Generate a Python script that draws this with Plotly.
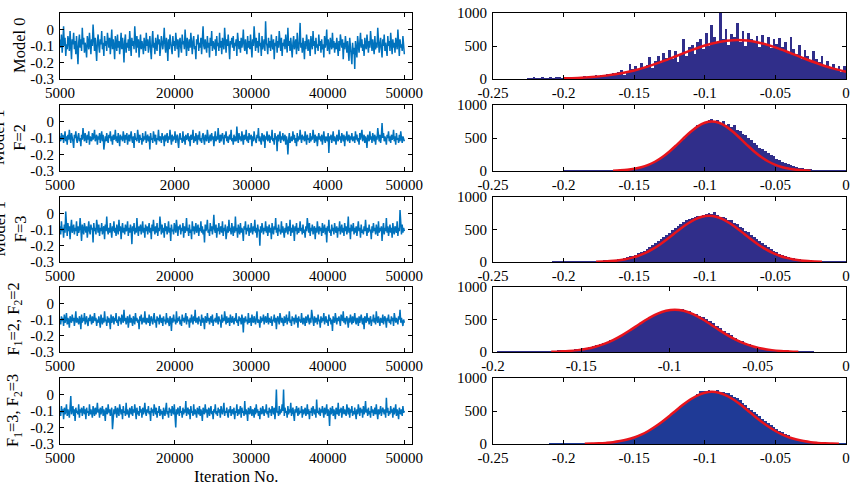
import plotly.graph_objects as go

# ---------------- data ----------------
ROW_LABELS = ["Model 0", "Model 1<br>F=2", "Model 1<br>F=3",
              "Model 2<br>F<sub>1</sub>=2, F<sub>2</sub>=2",
              "Model 2<br>F<sub>1</sub>=3, F<sub>2</sub>=3"]

ITER_START = 5000
ITER_END = 50000
ITER_TICKS = [5000, 20000, 30000, 40000, 50000]
ITER_TICKTEXT = [
    ["5000", "20000", "30000", "40000", "50000"],
    ["5000", "2000", "30000", "4000", "50000"],
    ["5000", "20000", "30000", "40000", "50000"],
    ["5000", "20000", "30000", "40000", "50000"],
    ["5000", "20000", "30000", "40000", "50000"],
]
TRACE_YTICKS = [-0.3, -0.2, -0.1, 0]
TRACE_YTEXT = ["-0.3", "-0.2", "-0.1", "0"]

HIST_XTICKS = [
    [-0.25, -0.2, -0.15, -0.1, -0.05, 0],
    [-0.25, -0.2, -0.15, -0.1, -0.05, 0],
    [-0.25, -0.2, -0.15, -0.1, -0.05, 0],
    [-0.2, -0.15, -0.1, -0.05, 0],
    [-0.25, -0.2, -0.15, -0.1, -0.05, 0],
]
HIST_XTEXT = [
    ["-0.25", "-0.2", "-0.15", "-0.1", "-0.05", "0"],
    ["-0.25", "-0.2", "-0.15", "-0.1", "-0.05", "0"],
    ["-0.25", "-0.2", "-0.15", "-0.1", "-0.05", "0"],
    ["-0.2", "-0.15", "-0.1", "-0.05", "0"],
    ["-0.25", "-0.2", "-0.15", "-0.1", "-0.05", "0"],
]
HIST_YTICKS = [0, 500, 1000]

# MCMC traces (sampled along the iterations)
trace0 = [
 -0.06,-0.11,-0.03,-0.14,-0.08,0.02,-0.10,-0.05,-0.16,-0.09,-0.12,-0.04,-0.07,-0.13,-0.01,-0.10,-0.18,-0.06,-0.09,-0.02,-0.12,-0.07,-0.15,-0.04,
 -0.10,-0.21,-0.08,-0.03,-0.11,-0.06,-0.13,0.01,-0.09,-0.05,-0.14,-0.08,-0.11,-0.17,-0.04,-0.07,-0.12,-0.02,-0.09,-0.15,-0.06,-0.10,0.03,-0.08,
 -0.13,-0.05,-0.11,-0.19,-0.07,-0.03,-0.10,-0.14,-0.06,-0.09,-0.01,-0.12,-0.08,-0.16,-0.04,-0.10,-0.07,-0.13,-0.02,-0.09,-0.11,-0.05,-0.15,-0.08,
 0.00,-0.12,-0.06,-0.10,-0.18,-0.04,-0.08,-0.13,-0.03,-0.11,-0.07,-0.15,-0.09,-0.02,-0.12,-0.05,-0.10,-0.20,-0.07,-0.03,-0.14,-0.08,-0.11,-0.06,
 -0.13,-0.01,-0.09,-0.16,-0.05,-0.10,-0.07,-0.12,0.02,-0.08,-0.14,-0.04,-0.11,-0.06,-0.17,-0.09,-0.03,-0.12,-0.07,-0.10,-0.15,-0.05,-0.08,-0.13,
 -0.02,-0.10,-0.06,-0.14,-0.09,-0.04,-0.12,-0.18,-0.07,-0.01,-0.11,-0.08,-0.15,-0.05,-0.10,-0.13,-0.03,-0.09,-0.06,-0.16,-0.11,-0.04,-0.08,-0.12,
 -0.07,0.01,-0.10,-0.14,-0.05,-0.09,-0.19,-0.06,-0.12,-0.03,-0.08,-0.11,-0.15,-0.04,-0.10,-0.07,-0.13,-0.02,-0.09,-0.12,-0.06,-0.17,-0.08,-0.05,
 -0.11,-0.14,-0.03,-0.09,-0.07,-0.12,0.00,-0.10,-0.16,-0.05,-0.08,-0.13,-0.06,-0.11,-0.02,-0.09,-0.15,-0.07,-0.04,-0.12,-0.10,-0.18,-0.06,-0.09,
 -0.03,-0.13,-0.08,-0.11,-0.05,-0.15,-0.07,0.02,-0.10,-0.12,-0.06,-0.09,-0.14,-0.04,-0.11,-0.08,-0.17,-0.05,-0.10,-0.01,-0.13,-0.07,-0.09,-0.12,
 -0.06,-0.16,-0.04,-0.10,-0.08,-0.13,-0.02,-0.11,-0.07,-0.15,-0.05,-0.09,-0.12,0.01,-0.08,-0.14,-0.06,-0.10,-0.03,-0.12,-0.18,-0.07,-0.09,-0.05,
 -0.11,-0.04,-0.13,-0.08,-0.10,-0.06,-0.16,-0.02,-0.09,-0.12,-0.07,-0.14,-0.05,-0.11,-0.08,0.00,-0.10,-0.13,-0.06,-0.09,-0.15,-0.04,-0.11,-0.07,
 -0.12,-0.03,-0.09,-0.17,-0.06,-0.10,0.02,-0.08,-0.13,-0.05,-0.11,-0.07,-0.14,-0.02,-0.10,-0.08,-0.16,-0.04,-0.12,-0.09,-0.06,-0.13,0.05,-0.08,
 -0.10,-0.15,-0.05,-0.11,-0.07,-0.13,-0.03,-0.09,-0.12,-0.06,-0.18,-0.08,-0.10,-0.04,-0.14,-0.07,-0.11,-0.01,-0.09,-0.13,-0.05,-0.16,-0.08,-0.10,
 -0.06,-0.12,-0.03,-0.09,-0.14,0.01,-0.10,-0.07,-0.13,-0.05,-0.11,-0.17,-0.08,-0.04,-0.12,-0.09,-0.06,-0.15,-0.02,-0.10,-0.13,-0.07,0.04,-0.11,
 -0.08,-0.14,-0.05,-0.10,-0.18,-0.07,-0.12,-0.03,-0.09,-0.13,-0.06,-0.11,-0.16,-0.04,-0.08,-0.12,-0.01,-0.10,-0.07,-0.15,-0.05,-0.11,-0.09,-0.13,
 -0.03,-0.10,-0.07,-0.14,-0.06,-0.12,-0.09,-0.17,-0.04,-0.11,-0.08,0.00,-0.13,-0.06,-0.10,-0.15,-0.05,-0.09,-0.12,-0.02,-0.11,-0.07,-0.14,-0.08,
 -0.12,-0.05,-0.10,-0.16,-0.07,-0.13,-0.03,-0.09,-0.11,-0.06,-0.18,-0.08,-0.12,-0.04,-0.10,-0.14,-0.07,-0.11,-0.19,-0.05,-0.09,-0.13,-0.21,-0.08,
 -0.15,-0.11,-0.24,-0.07,-0.12,-0.17,-0.04,-0.10,-0.14,-0.08,-0.02,-0.11,-0.06,-0.13,-0.09,-0.16,-0.05,-0.10,-0.12,-0.03,-0.08,-0.14,-0.07,-0.11,
 -0.01,-0.09,-0.13,-0.06,-0.10,-0.15,-0.04,-0.12,-0.08,-0.11,0.01,-0.07,-0.14,-0.09,-0.05,-0.12,-0.17,-0.06,-0.10,-0.03,-0.13,-0.08,-0.11,-0.16,
 -0.04,-0.10,-0.07,-0.13,-0.02,-0.09,-0.15,-0.06,-0.11,-0.08,-0.14,-0.05,-0.10,-0.12,0.00,-0.08,-0.16,-0.06,-0.11,-0.09,-0.13,-0.04,-0.12,-0.15,
]
trace1 = [
 -0.09,-0.12,-0.07,-0.11,-0.08,-0.13,-0.10,-0.06,-0.12,-0.09,-0.14,-0.08,-0.11,-0.05,-0.10,-0.13,-0.07,-0.09,-0.12,-0.16,-0.08,-0.10,-0.06,-0.11,
 -0.13,-0.09,-0.07,-0.12,-0.10,-0.15,-0.08,-0.11,-0.04,-0.09,-0.12,-0.07,-0.10,-0.13,-0.08,-0.11,-0.06,-0.14,-0.09,-0.10,-0.12,-0.07,-0.11,-0.09,
 -0.05,-0.12,-0.10,-0.08,-0.14,-0.09,-0.11,-0.07,-0.13,-0.10,-0.06,-0.12,-0.08,-0.17,-0.10,-0.09,-0.12,-0.07,-0.11,-0.13,-0.08,-0.10,-0.06,-0.12,
 -0.09,-0.14,-0.08,-0.11,-0.10,-0.05,-0.12,-0.09,-0.13,-0.07,-0.10,-0.15,-0.08,-0.11,-0.09,-0.12,-0.06,-0.10,-0.13,-0.08,-0.11,-0.07,-0.14,-0.10,
 -0.08,-0.12,-0.10,-0.06,-0.11,-0.13,-0.09,-0.16,-0.07,-0.11,-0.10,-0.12,-0.05,-0.09,-0.13,-0.08,-0.11,-0.10,-0.14,-0.07,-0.12,-0.09,-0.11,-0.06,
 -0.13,-0.10,-0.08,-0.12,-0.09,-0.17,-0.07,-0.11,-0.10,-0.13,-0.06,-0.09,-0.12,-0.08,-0.14,-0.10,-0.11,-0.05,-0.12,-0.09,-0.10,-0.13,-0.07,-0.11,
 -0.09,-0.15,-0.08,-0.12,-0.10,-0.07,-0.13,-0.09,-0.11,-0.05,-0.10,-0.14,-0.08,-0.12,-0.09,-0.11,-0.06,-0.13,-0.10,-0.08,-0.12,-0.16,-0.09,-0.07,
 -0.11,-0.10,-0.13,-0.06,-0.12,-0.09,-0.14,-0.08,-0.11,-0.10,-0.07,-0.12,-0.09,-0.15,-0.08,-0.11,-0.10,-0.05,-0.13,-0.09,-0.12,-0.07,-0.10,-0.14,
 -0.08,-0.11,-0.06,-0.12,-0.10,-0.13,-0.09,-0.07,-0.11,-0.14,-0.08,-0.10,-0.12,-0.05,-0.09,-0.13,-0.10,-0.08,-0.12,-0.07,-0.11,-0.09,-0.15,-0.10,
 -0.06,-0.12,-0.09,-0.11,-0.04,-0.10,-0.13,-0.08,-0.12,-0.09,-0.07,-0.11,-0.14,-0.08,-0.10,-0.06,-0.12,-0.09,-0.13,-0.10,-0.08,-0.11,-0.05,-0.12,
 -0.10,-0.14,-0.08,-0.12,-0.09,-0.12,-0.03,-0.10,-0.13,-0.07,-0.11,-0.09,-0.12,-0.06,-0.10,-0.14,-0.08,-0.11,-0.10,-0.05,-0.12,-0.09,-0.13,-0.07,
 -0.11,-0.10,-0.08,-0.15,-0.09,-0.12,-0.06,-0.10,-0.11,-0.13,-0.08,-0.10,-0.04,-0.12,-0.09,-0.11,-0.14,-0.07,-0.10,-0.12,-0.08,-0.16,-0.09,-0.11,
 -0.06,-0.12,-0.10,-0.08,-0.13,-0.09,-0.11,-0.05,-0.12,-0.10,-0.14,-0.07,-0.11,-0.09,-0.18,-0.08,-0.12,-0.10,-0.06,-0.13,-0.09,-0.11,-0.07,-0.12,
 -0.10,-0.08,-0.14,-0.09,-0.12,-0.20,-0.11,-0.07,-0.13,-0.10,-0.09,-0.12,-0.06,-0.11,-0.08,-0.13,-0.10,-0.15,-0.07,-0.12,-0.09,-0.11,-0.05,-0.10,
 -0.13,-0.08,-0.11,-0.09,-0.12,-0.06,-0.10,-0.14,-0.08,-0.11,-0.10,-0.13,-0.07,-0.12,-0.09,-0.11,-0.05,-0.10,-0.13,-0.08,-0.12,-0.09,-0.15,-0.10,
 -0.07,-0.11,-0.09,-0.12,-0.08,-0.14,-0.10,-0.06,-0.11,-0.13,-0.09,-0.10,-0.12,-0.07,-0.19,-0.09,-0.11,-0.08,-0.13,-0.10,-0.06,-0.12,-0.09,-0.11,
 -0.14,-0.08,-0.10,-0.12,-0.05,-0.11,-0.09,-0.13,-0.07,-0.10,-0.12,-0.08,-0.15,-0.09,-0.11,-0.06,-0.12,-0.10,-0.08,-0.13,-0.09,-0.11,-0.07,-0.12,
 -0.10,-0.09,-0.13,-0.06,-0.11,-0.08,-0.12,-0.10,-0.14,-0.07,-0.11,-0.09,-0.05,-0.12,-0.10,-0.08,-0.13,-0.09,-0.11,-0.16,-0.08,-0.10,-0.12,-0.06,
 -0.11,-0.09,-0.13,-0.07,-0.10,-0.12,-0.08,-0.14,-0.09,-0.11,-0.04,-0.10,-0.12,-0.08,-0.13,-0.09,-0.01,-0.10,-0.07,-0.12,-0.09,-0.11,-0.14,-0.08,
 -0.10,-0.06,-0.12,-0.09,-0.13,-0.08,-0.11,-0.10,-0.05,-0.12,-0.09,-0.14,-0.07,-0.11,-0.10,-0.13,-0.08,-0.12,-0.06,-0.10,-0.13,-0.09,-0.11,-0.12,
]
trace2 = [
 -0.08,-0.13,-0.05,-0.11,-0.09,-0.15,-0.07,-0.12,0.01,-0.10,-0.14,-0.06,-0.11,-0.08,-0.16,-0.09,-0.04,-0.12,-0.10,-0.07,-0.13,-0.09,-0.11,-0.05,
 -0.14,-0.08,-0.12,-0.10,-0.03,-0.11,-0.17,-0.07,-0.10,-0.13,-0.06,-0.09,-0.12,-0.08,-0.15,-0.10,-0.05,-0.11,-0.13,-0.07,-0.10,-0.09,-0.18,-0.06,
 -0.11,-0.09,-0.13,-0.04,-0.10,-0.12,-0.07,-0.14,-0.09,-0.11,-0.06,-0.13,-0.10,-0.08,-0.16,-0.07,-0.11,-0.02,-0.10,-0.13,-0.09,-0.12,-0.06,-0.10,
 -0.15,-0.08,-0.11,-0.05,-0.12,-0.09,-0.14,-0.07,-0.10,-0.13,-0.04,-0.11,-0.08,-0.16,-0.10,-0.06,-0.12,-0.09,-0.13,-0.07,-0.11,-0.10,-0.05,-0.14,
 -0.09,-0.12,-0.07,-0.10,-0.19,-0.08,-0.11,-0.06,-0.13,-0.09,-0.12,-0.03,-0.10,-0.14,-0.08,-0.11,-0.07,-0.13,-0.10,-0.05,-0.12,-0.09,-0.15,-0.07,
 -0.11,-0.08,-0.13,-0.10,-0.06,-0.12,-0.09,-0.16,-0.07,-0.11,-0.04,-0.10,-0.13,-0.08,-0.12,-0.06,-0.14,-0.09,-0.11,-0.02,-0.10,-0.13,-0.07,-0.12,
 -0.09,-0.15,-0.06,-0.11,-0.08,-0.13,-0.10,-0.05,-0.12,-0.09,-0.17,-0.07,-0.11,-0.10,-0.13,-0.06,-0.09,-0.12,-0.04,-0.11,-0.14,-0.08,-0.10,-0.07,
 -0.13,-0.09,-0.11,-0.06,-0.15,-0.08,-0.12,-0.10,-0.03,-0.11,-0.09,-0.14,-0.07,-0.12,-0.10,-0.16,-0.05,-0.11,-0.08,-0.13,-0.09,-0.06,-0.12,-0.10,
 -0.07,-0.14,-0.09,-0.11,-0.05,-0.12,-0.08,-0.13,-0.10,-0.18,-0.07,-0.11,-0.09,-0.04,-0.12,-0.10,-0.14,-0.06,-0.11,-0.08,-0.13,-0.09,-0.01,-0.10,
 -0.12,-0.07,-0.15,-0.09,-0.11,-0.06,-0.13,-0.10,-0.08,-0.12,-0.05,-0.14,-0.09,-0.11,-0.07,-0.16,-0.10,-0.08,-0.12,-0.04,-0.11,-0.09,-0.13,-0.06,
 -0.10,-0.14,-0.08,-0.12,-0.02,-0.11,-0.09,-0.15,-0.07,-0.10,-0.13,-0.06,-0.12,-0.09,-0.11,-0.17,-0.08,-0.10,-0.05,-0.13,-0.09,-0.11,-0.07,-0.14,
 -0.09,-0.12,-0.06,-0.10,-0.13,-0.08,-0.11,-0.04,-0.12,-0.09,-0.15,-0.07,-0.11,-0.10,-0.20,-0.08,-0.12,-0.06,-0.10,-0.13,-0.09,-0.11,-0.05,-0.12,
 -0.08,-0.14,-0.10,-0.07,-0.12,-0.09,-0.16,-0.06,-0.11,-0.13,-0.08,-0.10,-0.03,-0.12,-0.09,-0.14,-0.07,-0.11,-0.10,-0.13,-0.05,-0.12,-0.08,-0.11,
 -0.15,-0.09,-0.12,-0.06,-0.10,-0.13,-0.08,-0.11,-0.04,-0.14,-0.09,-0.12,-0.07,-0.10,-0.17,-0.08,-0.11,-0.06,-0.13,-0.09,-0.12,-0.10,-0.05,-0.11,
 -0.09,-0.13,-0.07,-0.12,-0.10,-0.15,-0.08,-0.11,-0.03,-0.10,-0.12,-0.06,-0.14,-0.09,-0.11,-0.07,-0.13,-0.10,-0.08,-0.16,-0.09,-0.12,-0.05,-0.10,
 -0.13,-0.08,-0.11,-0.09,-0.14,-0.06,-0.12,-0.10,-0.07,-0.13,-0.09,-0.18,-0.08,-0.11,-0.04,-0.12,-0.10,-0.14,-0.07,-0.11,-0.09,-0.13,-0.06,-0.10,
 -0.12,-0.08,-0.15,-0.09,-0.11,-0.05,-0.13,-0.10,-0.07,-0.12,-0.09,-0.14,-0.06,-0.11,-0.08,-0.13,-0.10,-0.02,-0.12,-0.09,-0.16,-0.07,-0.11,-0.10,
 -0.06,-0.13,-0.09,-0.12,-0.08,-0.14,-0.10,-0.05,-0.11,-0.09,-0.15,-0.07,-0.12,-0.10,-0.13,-0.08,-0.11,-0.04,-0.10,-0.14,-0.09,-0.12,-0.07,-0.11,
 -0.10,-0.16,-0.08,-0.12,-0.06,-0.11,-0.09,-0.13,-0.07,-0.10,-0.14,-0.05,-0.12,-0.09,-0.11,-0.08,-0.17,-0.10,-0.06,-0.13,-0.09,-0.11,-0.03,-0.12,
 -0.08,-0.14,-0.10,-0.07,-0.12,-0.09,-0.15,-0.06,-0.11,-0.13,-0.08,-0.10,-0.12,-0.05,-0.14,-0.09,-0.11,0.02,-0.10,-0.13,-0.07,-0.12,-0.09,-0.11,
]
trace3 = [
 -0.10,-0.13,-0.08,-0.11,-0.09,-0.14,-0.07,-0.12,-0.10,-0.06,-0.13,-0.09,-0.11,-0.15,-0.08,-0.10,-0.12,-0.07,-0.11,-0.09,-0.14,-0.10,-0.05,-0.12,
 -0.09,-0.11,-0.13,-0.08,-0.10,-0.16,-0.07,-0.12,-0.09,-0.11,-0.06,-0.13,-0.10,-0.08,-0.12,-0.14,-0.09,-0.11,-0.07,-0.10,-0.13,-0.08,-0.12,-0.10,
 -0.06,-0.11,-0.09,-0.14,-0.10,-0.12,-0.08,-0.11,-0.15,-0.07,-0.10,-0.13,-0.09,-0.12,-0.05,-0.11,-0.10,-0.14,-0.08,-0.12,-0.09,-0.11,-0.16,-0.07,
 -0.12,-0.10,-0.08,-0.13,-0.09,-0.11,-0.06,-0.12,-0.10,-0.14,-0.08,-0.11,-0.09,-0.13,-0.07,-0.10,-0.12,-0.04,-0.11,-0.09,-0.13,-0.10,-0.08,-0.15,
 -0.10,-0.07,-0.12,-0.09,-0.11,-0.14,-0.08,-0.10,-0.13,-0.06,-0.11,-0.09,-0.12,-0.10,-0.16,-0.08,-0.11,-0.07,-0.13,-0.10,-0.09,-0.12,-0.05,-0.11,
 -0.13,-0.09,-0.10,-0.12,-0.07,-0.14,-0.10,-0.08,-0.11,-0.13,-0.09,-0.06,-0.12,-0.10,-0.15,-0.08,-0.11,-0.09,-0.13,-0.07,-0.10,-0.12,-0.09,-0.14,
 -0.08,-0.11,-0.10,-0.13,-0.06,-0.12,-0.09,-0.11,-0.14,-0.08,-0.10,-0.17,-0.09,-0.12,-0.07,-0.11,-0.10,-0.13,-0.05,-0.12,-0.09,-0.11,-0.08,-0.13,
 -0.10,-0.14,-0.07,-0.11,-0.09,-0.12,-0.10,-0.06,-0.13,-0.08,-0.11,-0.10,-0.15,-0.09,-0.12,-0.07,-0.10,-0.13,-0.08,-0.11,-0.04,-0.12,-0.10,-0.09,
 -0.13,-0.08,-0.11,-0.10,-0.14,-0.07,-0.12,-0.09,-0.11,-0.16,-0.08,-0.10,-0.12,-0.06,-0.11,-0.09,-0.13,-0.10,-0.08,-0.12,-0.07,-0.14,-0.10,-0.11,
 -0.09,-0.12,-0.06,-0.10,-0.13,-0.08,-0.11,-0.10,-0.15,-0.07,-0.12,-0.09,-0.11,-0.05,-0.10,-0.13,-0.08,-0.12,-0.10,-0.09,-0.14,-0.07,-0.11,-0.12,
 -0.08,-0.10,-0.13,-0.09,-0.11,-0.06,-0.12,-0.10,-0.14,-0.08,-0.11,-0.09,-0.13,-0.07,-0.10,-0.18,-0.09,-0.12,-0.08,-0.11,-0.10,-0.13,-0.06,-0.12,
 -0.10,-0.09,-0.14,-0.07,-0.11,-0.12,-0.08,-0.10,-0.13,-0.09,-0.05,-0.12,-0.10,-0.11,-0.15,-0.08,-0.12,-0.09,-0.11,-0.07,-0.13,-0.10,-0.08,-0.12,
 -0.11,-0.06,-0.13,-0.09,-0.10,-0.12,-0.08,-0.14,-0.10,-0.11,-0.07,-0.12,-0.09,-0.16,-0.10,-0.08,-0.11,-0.13,-0.06,-0.10,-0.12,-0.09,-0.11,-0.14,
 -0.08,-0.12,-0.10,-0.07,-0.13,-0.09,-0.11,-0.05,-0.12,-0.10,-0.14,-0.08,-0.11,-0.09,-0.13,-0.10,-0.07,-0.12,-0.09,-0.15,-0.08,-0.11,-0.10,-0.12,
 -0.06,-0.11,-0.13,-0.09,-0.10,-0.14,-0.08,-0.12,-0.10,-0.07,-0.11,-0.13,-0.09,-0.12,-0.04,-0.10,-0.11,-0.14,-0.08,-0.12,-0.09,-0.10,-0.13,-0.07,
 -0.11,-0.10,-0.15,-0.08,-0.12,-0.09,-0.11,-0.06,-0.13,-0.10,-0.08,-0.12,-0.10,-0.14,-0.07,-0.11,-0.09,-0.13,-0.10,-0.17,-0.08,-0.11,-0.12,-0.06,
 -0.10,-0.13,-0.09,-0.11,-0.08,-0.12,-0.14,-0.07,-0.10,-0.11,-0.05,-0.12,-0.09,-0.13,-0.10,-0.08,-0.11,-0.15,-0.09,-0.12,-0.07,-0.10,-0.13,-0.08,
 -0.12,-0.10,-0.06,-0.11,-0.13,-0.09,-0.10,-0.14,-0.08,-0.12,-0.10,-0.07,-0.11,-0.13,-0.09,-0.16,-0.08,-0.10,-0.12,-0.06,-0.11,-0.09,-0.13,-0.10,
 -0.08,-0.14,-0.10,-0.11,-0.07,-0.12,-0.09,-0.13,-0.05,-0.10,-0.12,-0.08,-0.11,-0.14,-0.09,-0.10,-0.12,-0.07,-0.13,-0.10,-0.08,-0.11,-0.15,-0.09,
 -0.11,-0.07,-0.12,-0.10,-0.13,-0.08,-0.11,-0.09,-0.14,-0.06,-0.10,-0.12,-0.09,-0.11,-0.13,-0.08,-0.10,-0.04,-0.12,-0.09,-0.11,-0.14,-0.10,-0.12,
]
trace4 = [
 -0.10,-0.13,-0.07,-0.11,-0.09,-0.15,-0.08,-0.12,-0.10,-0.06,-0.13,-0.09,-0.11,-0.14,-0.08,-0.01,-0.12,-0.10,-0.07,-0.13,-0.09,-0.16,-0.08,-0.11,
 -0.10,-0.12,-0.06,-0.14,-0.09,-0.11,-0.08,-0.13,-0.10,-0.07,-0.12,-0.09,-0.15,-0.08,-0.11,-0.10,-0.13,-0.06,-0.12,-0.09,-0.11,-0.14,-0.07,-0.10,
 -0.13,-0.08,-0.12,-0.10,-0.05,-0.11,-0.09,-0.14,-0.08,-0.12,-0.10,-0.07,-0.13,-0.09,-0.11,-0.16,-0.08,-0.10,-0.12,-0.06,-0.11,-0.09,-0.13,-0.10,
 -0.08,-0.21,-0.11,-0.09,-0.12,-0.07,-0.10,-0.14,-0.08,-0.11,-0.13,-0.06,-0.10,-0.12,-0.09,-0.15,-0.07,-0.11,-0.10,-0.13,-0.05,-0.12,-0.09,-0.11,
 -0.14,-0.08,-0.10,-0.12,-0.07,-0.13,-0.09,-0.11,-0.06,-0.10,-0.15,-0.08,-0.12,-0.10,-0.13,-0.07,-0.11,-0.09,-0.14,-0.08,-0.12,-0.10,-0.05,-0.11,
 -0.13,-0.09,-0.11,-0.07,-0.12,-0.10,-0.16,-0.08,-0.11,-0.09,-0.13,-0.06,-0.10,-0.12,-0.08,-0.14,-0.10,-0.11,-0.07,-0.13,-0.09,-0.12,-0.10,-0.15,
 -0.08,-0.11,-0.13,-0.09,-0.05,-0.12,-0.10,-0.14,-0.08,-0.11,-0.09,-0.13,-0.07,-0.10,-0.12,-0.06,-0.11,-0.20,-0.09,-0.12,-0.08,-0.10,-0.13,-0.07,
 -0.11,-0.10,-0.14,-0.08,-0.12,-0.09,-0.11,-0.04,-0.13,-0.10,-0.08,-0.12,-0.09,-0.15,-0.07,-0.11,-0.10,-0.13,-0.06,-0.12,-0.09,-0.11,-0.14,-0.08,
 -0.10,-0.12,-0.07,-0.13,-0.09,-0.11,-0.16,-0.08,-0.10,-0.12,-0.06,-0.11,-0.09,-0.14,-0.10,-0.08,-0.13,-0.11,-0.07,-0.12,-0.10,-0.15,-0.09,-0.11,
 -0.06,-0.12,-0.10,-0.13,-0.08,-0.11,-0.09,-0.14,-0.07,-0.10,-0.12,-0.09,-0.05,-0.13,-0.10,-0.11,-0.08,-0.12,-0.14,-0.09,-0.11,-0.07,-0.13,-0.10,
 -0.09,-0.12,-0.08,-0.15,-0.10,-0.11,-0.06,-0.13,-0.09,-0.12,-0.10,-0.07,-0.14,-0.08,-0.11,-0.10,-0.13,-0.04,-0.12,-0.09,-0.11,-0.16,-0.08,-0.10,
 -0.12,-0.07,-0.11,-0.13,-0.09,-0.10,-0.14,-0.08,-0.12,-0.06,-0.11,-0.09,-0.13,-0.10,-0.15,-0.08,-0.11,-0.12,-0.07,-0.10,-0.13,-0.09,-0.11,-0.06,
 -0.12,-0.10,-0.14,-0.08,-0.11,-0.09,-0.13,-0.07,-0.10,-0.12,-0.08,-0.15,-0.09,0.03,-0.11,-0.10,-0.13,-0.07,-0.12,-0.09,-0.11,-0.06,-0.10,0.03,
 -0.13,-0.08,-0.11,-0.10,-0.14,-0.07,-0.12,-0.09,-0.11,-0.05,-0.13,-0.10,-0.08,-0.12,-0.16,-0.09,-0.11,-0.07,-0.10,-0.13,-0.08,-0.12,-0.10,-0.11,
 -0.07,-0.14,-0.09,-0.12,-0.10,-0.08,-0.13,-0.11,-0.06,-0.12,-0.09,-0.15,-0.10,-0.11,-0.08,-0.13,-0.07,-0.10,-0.12,-0.09,-0.14,-0.03,-0.11,-0.10,
 -0.12,-0.08,-0.13,-0.09,-0.11,-0.07,-0.10,-0.14,-0.08,-0.12,-0.10,-0.06,-0.13,-0.09,-0.11,-0.19,-0.08,-0.12,-0.10,-0.07,-0.13,-0.09,-0.11,-0.15,
 -0.08,-0.10,-0.12,-0.05,-0.13,-0.09,-0.11,-0.08,-0.14,-0.10,-0.07,-0.12,-0.09,-0.11,-0.13,-0.06,-0.10,-0.12,-0.08,-0.14,-0.09,-0.11,-0.07,-0.13,
 -0.10,-0.12,-0.08,-0.11,-0.15,-0.09,-0.12,-0.06,-0.10,-0.13,-0.08,-0.11,-0.09,-0.14,-0.07,-0.12,-0.10,-0.04,-0.11,-0.09,-0.13,-0.08,-0.12,-0.10,
 -0.14,-0.07,-0.11,-0.09,-0.13,-0.10,-0.08,-0.12,-0.06,-0.11,-0.15,-0.09,-0.12,-0.10,-0.07,-0.13,-0.11,-0.08,-0.10,-0.12,-0.09,-0.14,-0.02,-0.11,
 -0.08,-0.13,-0.10,-0.12,-0.07,-0.11,-0.09,-0.14,-0.08,-0.12,-0.10,-0.06,-0.13,-0.09,-0.11,-0.15,-0.08,-0.10,-0.12,-0.09,-0.13,-0.07,-0.11,-0.10,
]
TRACES = [trace0, trace1, trace2, trace3, trace4]

# Histogram counts (bin width 0.002), first bin centre per row
BIN_WIDTH = 0.002
hist0_start = -0.225
hist0 = [
 15,10,18,5,12,20,8,14,22,10,16,25,12,
 20,28,15,30,22,35,25,40,30,45,35,55,40,60,50,
 70,55,90,75,110,140,60,120,220,150,200,130,250,180,210,
 330,170,280,350,250,400,320,440,300,420,260,380,600,350,480,
 520,380,560,600,450,700,500,820,640,560,1000,600,760,520,680,
 640,850,560,720,500,690,600,560,650,480,660,520,640,470,600,
 530,620,480,560,400,630,450,380,520,300,440,350,280,420,300,
 260,350,200,280,170,230,150,190,110,200,
]
hist1_start = -0.199
hist1 = [
 3,2,4,3,5,3,4,6,4,5,7,5,6,8,7,9,
 6,7,9,11,14,17,22,28,35,45,52,63,72,88,104,125,146,172,200,225,
 262,300,328,380,405,462,490,545,570,620,640,690,700,730,735,775,
 790,745,780,725,760,700,705,660,690,620,600,560,545,495,470,420,400,355,340,300,
 275,240,220,185,165,140,120,100,86,70,58,47,38,30,24,18,14,11,8,6,
 5,4,3,3,2,2,2,1,
]
hist2_start = -0.207
hist2 = [
 5,6,4,8,6,9,7,5,10,8,7,11,9,12,10,
 12,14,13,18,20,24,28,33,40,50,60,70,85,98,115,135,152,175,200,228,
 255,285,318,350,385,420,452,485,520,550,585,610,640,660,680,692,705,712,720,745,
 760,735,770,720,700,690,680,650,640,600,590,545,525,480,460,418,390,350,320,290,
 260,230,200,175,150,130,112,96,82,68,58,48,40,33,27,22,18,14,11,9,
 7,6,5,4,4,3,3,2,2,
]
hist3_start = -0.197
hist3 = [
 4,6,5,7,5,8,6,9,7,10,8,9,11,10,12,
 14,15,18,20,24,28,34,40,47,55,62,75,88,102,118,136,155,178,200,226,
 258,290,322,358,395,428,462,500,528,560,585,610,628,640,668,
 660,640,668,630,625,600,585,560,540,505,480,445,400,365,330,290,255,222,192,165,
 140,118,98,82,68,55,45,36,28,22,17,13,11,9,8,7,6,6,5,5,
]
hist4_start = -0.209
hist4 = [
 3,4,3,5,4,5,6,5,6,7,6,8,7,8,9,8,
 9,11,13,16,19,24,28,34,41,49,58,68,80,94,108,126,144,166,188,212,
 238,266,296,328,362,395,430,465,500,535,572,605,640,672,700,725,760,800,805,800,815,
 810,800,812,795,790,780,770,740,705,690,665,620,590,545,510,480,460,420,385,350,
 318,288,255,225,198,176,152,132,112,96,82,68,57,48,40,33,27,22,18,15,
 12,10,8,6,5,4,3,3,
]
HISTS = [hist0, hist1, hist2, hist3, hist4]
HIST_STARTS = [hist0_start, hist1_start, hist2_start, hist3_start, hist4_start]

# Fitted normal curves
fit0_start, fit0_step = -0.20, 0.01
fit0 = [10,16,29,51,84,130,192,266,349,433,508,562,589,582,543,480,400,315,235,165,110]
fit1_start, fit1_step = -0.165, 0.005
fit1 = [5,10,18,33,57,93,144,212,296,393,496,594,677,731,750,731,677,594,496,393,296,212,144,93,57,33,18,10,5]
fit2_start, fit2_step = -0.177, 0.005
fit2 = [4,8,14,24,40,63,96,141,197,266,346,431,516,593,655,696,710,696,655,593,516,431,346,266,197,141,96,63,40,24,14,8,4]
fit3_start, fit3_step = -0.167, 0.005
fit3 = [4,9,16,29,49,81,125,184,257,341,430,515,587,634,650,634,587,515,430,341,257,184,125,81,49,29,16,9,4]
fit4_start, fit4_step = -0.185, 0.005
fit4 = [3,6,10,17,27,44,67,99,142,197,264,341,426,515,601,677,738,777,790,777,738,677,601,515,426,341,264,197,142,99,67,44,27,17,10,6,3]
FITS = [(fit0_start, fit0_step, fit0), (fit1_start, fit1_step, fit1), (fit2_start, fit2_step, fit2),
        (fit3_start, fit3_step, fit3), (fit4_start, fit4_step, fit4)]
HIST_XRANGES = [[-0.25, 0], [-0.25, 0], [-0.25, 0], [-0.2, 0], [-0.25, 0]]

# ---------------- styling ----------------
W, H = 854, 486
TICK_FONT = dict(family="Liberation Serif", size=15, color="black")
LABEL_FONT = dict(family="Liberation Serif", size=16.5, color="black")
LINE_BLUE = "#0072BD"
BAR_COLORS = ["#302e8a", "#302e8a", "#302e8a", "#302e8a", "#1f3a96"]
RED = "#e8141c"
COL_PX = [(60, 412), (493, 846)]
ROW_PX = [(13, 79), (105, 171), (197, 262), (287, 352), (378, 444)]
LABEL_X = [19, 9, 9, 3, 3]

fig = go.Figure()
layout = {}

def axis_common():
    return dict(showline=True, linecolor="black", linewidth=1, mirror="ticks",
                ticks="inside", ticklen=4, tickwidth=1, tickcolor="black",
                showgrid=False, zeroline=False, tickfont=TICK_FONT,
                fixedrange=True, automargin=False)

for r in range(5):
    yd = [1 - ROW_PX[r][1] / H, 1 - ROW_PX[r][0] / H]
    li, ri = 2 * r + 1, 2 * r + 2
    lx = "x" if li == 1 else f"x{li}"
    ly = "y" if li == 1 else f"y{li}"
    rx, ry = f"x{ri}", f"y{ri}"

    # left: trace
    tr = TRACES[r]
    fig.add_trace(go.Scatter(y=tr, x0=ITER_START, dx=(ITER_END - ITER_START) / (len(tr) - 1),
                             mode="lines", line=dict(color=LINE_BLUE, width=1.5),
                             xaxis=lx, yaxis=ly, hoverinfo="skip"))
    xa = axis_common()
    xa.update(domain=[COL_PX[0][0] / W, COL_PX[0][1] / W], range=[5000, 51000],
              tickmode="array", tickvals=ITER_TICKS, ticktext=ITER_TICKTEXT[r], anchor=ly)
    ya = axis_common()
    ya.update(domain=yd, range=[-0.3, 0.1], tickmode="array", tickvals=TRACE_YTICKS,
              ticktext=TRACE_YTEXT, anchor=lx, ticklabelstandoff=2)
    layout["xaxis" if li == 1 else f"xaxis{li}"] = xa
    layout["yaxis" if li == 1 else f"yaxis{li}"] = ya

    # right: histogram + fit
    fs, fstep, fv = FITS[r]
    bar = go.Bar(y=HISTS[r], x0=HIST_STARTS[r], dx=BIN_WIDTH, width=BIN_WIDTH,
                 marker=dict(color=BAR_COLORS[r], line=dict(width=0)),
                 xaxis=rx, yaxis=ry, hoverinfo="skip")
    curve = go.Scatter(y=fv, x0=fs, dx=fstep, mode="lines",
                       line=dict(color=RED, width=2.5, shape="spline"),
                       xaxis=rx, yaxis=ry, hoverinfo="skip")
    if r == 4:
        fig.add_trace(curve)
        fig.add_trace(bar)
    else:
        fig.add_trace(bar)
        fig.add_trace(curve)
    xa = axis_common()
    xa.update(domain=[COL_PX[1][0] / W, COL_PX[1][1] / W], range=HIST_XRANGES[r],
              tickmode="array", tickvals=HIST_XTICKS[r], ticktext=HIST_XTEXT[r], anchor=ry)
    ya = axis_common()
    ya.update(domain=yd, range=[0, 1000], tickmode="array", tickvals=HIST_YTICKS,
              ticktext=[str(v) for v in HIST_YTICKS], anchor=rx, ticklabelstandoff=2)
    layout[f"xaxis{ri}"] = xa
    layout[f"yaxis{ri}"] = ya

annotations = []
for r, lab in enumerate(ROW_LABELS):
    yc = 1 - (ROW_PX[r][0] + ROW_PX[r][1]) / 2 / H
    annotations.append(dict(text=lab, textangle=-90, x=LABEL_X[r] / W, y=yc, xref="paper", yref="paper",
                            xanchor="center", yanchor="middle", showarrow=False, font=LABEL_FONT))
annotations.append(dict(text="Iteration No.", x=236 / W, y=1 - 476 / H, xref="paper", yref="paper",
                        xanchor="center", yanchor="middle", showarrow=False, font=LABEL_FONT))

fig.update_layout(width=W, height=H, margin=dict(l=0, r=0, t=0, b=0),
                  paper_bgcolor="white", plot_bgcolor="white", showlegend=False,
                  bargap=0, barmode="overlay", annotations=annotations, **layout)

fig.write_html("out.html")
